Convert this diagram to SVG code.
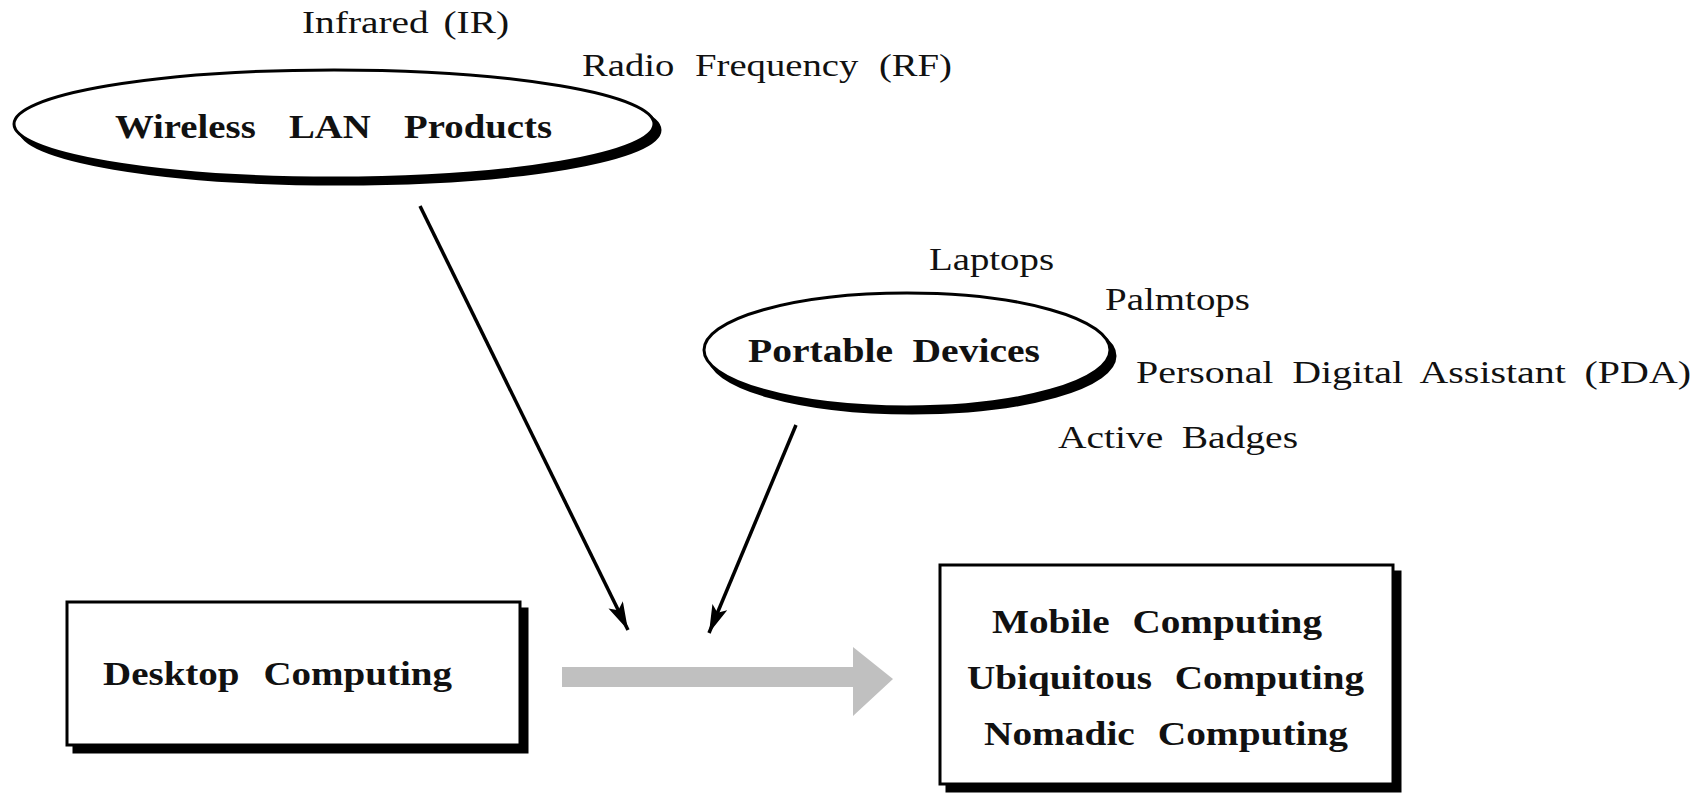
<svg xmlns="http://www.w3.org/2000/svg" width="1704" height="794" viewBox="0 0 1704 794">
<style>
.lbl{font-family:"Liberation Serif","Times New Roman",serif;font-size:32px;fill:#111;word-spacing:7px}
.bold{font-family:"Liberation Serif","Times New Roman",serif;font-size:33px;font-weight:bold;fill:#111;word-spacing:11px}
.shape{fill:#fff;stroke:#000;stroke-width:3}
.shadow{fill:#000;stroke:#000;stroke-width:3}
.conn{stroke:#000;stroke-width:3.5;fill:none}
</style>
<defs>
<marker id="ah" markerUnits="userSpaceOnUse" markerWidth="32" markerHeight="20" refX="28" refY="8" orient="auto">
<path d="M0,0 L28,8 L0,16 L6,8 Z" fill="#000"/>
</marker>
</defs>
<rect width="1704" height="794" fill="#fff"/>
<g id="labels-wireless">
<text class="lbl" x="302" y="33" textLength="207" lengthAdjust="spacingAndGlyphs" style="word-spacing:4px">Infrared (IR)</text>
<text class="lbl" x="582" y="76" textLength="370" lengthAdjust="spacingAndGlyphs" style="word-spacing:9px">Radio Frequency (RF)</text>
</g>
<g id="node-wireless">
<ellipse class="shadow" cx="340" cy="130" rx="320" ry="54"/>
<ellipse class="shape" cx="334" cy="124" rx="320" ry="54"/>
<text class="bold" x="115" y="138" textLength="437" lengthAdjust="spacingAndGlyphs" style="word-spacing:20px">Wireless LAN Products</text>
</g>
<g id="labels-portable">
<text class="lbl" x="929" y="270" textLength="125" lengthAdjust="spacingAndGlyphs">Laptops</text>
<text class="lbl" x="1105" y="310" textLength="145" lengthAdjust="spacingAndGlyphs">Palmtops</text>
<text class="lbl" x="1136" y="383" textLength="555" lengthAdjust="spacingAndGlyphs">Personal Digital Assistant (PDA)</text>
<text class="lbl" x="1058" y="448" textLength="240" lengthAdjust="spacingAndGlyphs">Active Badges</text>
</g>
<g id="node-portable">
<ellipse class="shadow" cx="912" cy="356" rx="203" ry="57"/>
<ellipse class="shape" cx="907" cy="350" rx="203" ry="57"/>
<text class="bold" x="748" y="362" textLength="292" lengthAdjust="spacingAndGlyphs" style="word-spacing:8px">Portable Devices</text>
</g>
<g id="node-desktop">
<rect class="shadow" x="74" y="609" width="453" height="143"/>
<rect class="shape" x="67" y="602" width="453" height="143"/>
<text class="bold" x="103" y="685" textLength="349" lengthAdjust="spacingAndGlyphs" style="word-spacing:12px">Desktop Computing</text>
</g>
<g id="node-mobile">
<rect class="shadow" x="947" y="572" width="453" height="219"/>
<rect class="shape" x="940" y="565" width="453" height="219"/>
<text class="bold" x="992" y="633" textLength="330" lengthAdjust="spacingAndGlyphs">Mobile Computing</text>
<text class="bold" x="967" y="689" textLength="397" lengthAdjust="spacingAndGlyphs">Ubiquitous Computing</text>
<text class="bold" x="984" y="745" textLength="364" lengthAdjust="spacingAndGlyphs">Nomadic Computing</text>
</g>
<g id="connectors">
<line class="conn" x1="420" y1="206" x2="628" y2="630" marker-end="url(#ah)"/>
<line class="conn" x1="796" y1="425" x2="709" y2="633" marker-end="url(#ah)"/>
<polygon points="562,667 853,667 853,647 893,679 853,716 853,687 562,687" fill="#c0c0c0"/>
</g>
</svg>
